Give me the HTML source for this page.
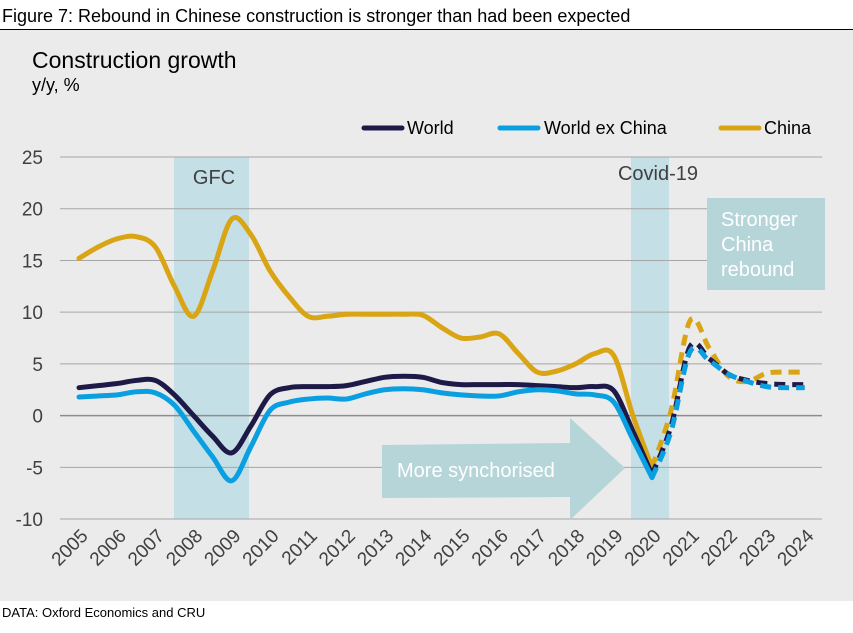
<!DOCTYPE html>
<html><head><meta charset="utf-8"><style>
body{margin:0;width:853px;height:628px;background:#fff;font-family:"Liberation Sans",Arial,sans-serif;overflow:hidden}
</style></head><body>
<svg width="853" height="628" xmlns="http://www.w3.org/2000/svg" font-family="Liberation Sans, Arial, sans-serif">
<text x="2" y="22" font-size="18" fill="#000">Figure 7: Rebound in Chinese construction is stronger than had been expected</text>
<line x1="0" y1="29.5" x2="853" y2="29.5" stroke="#000" stroke-width="1"/>
<rect x="0" y="30" width="853" height="571" fill="#ebebeb"/>
<text x="32" y="68" font-size="23" fill="#000">Construction growth</text>
<text x="32" y="91" font-size="18" fill="#000">y/y, %</text>
<rect x="174" y="157" width="75" height="362" fill="#c5dfe6"/>
<text x="214" y="184" font-size="20" fill="#404040" text-anchor="middle">GFC</text>
<rect x="631" y="157" width="38" height="362" fill="#c5dfe6"/>
<g id="grid"></g>
<text x="658" y="180" font-size="20" fill="#404040" text-anchor="middle">Covid-19</text>
<rect x="707" y="198" width="118" height="92" fill="#b5d5d9"/>
<text font-size="20" fill="#fff"><tspan x="721" y="226">Stronger</tspan><tspan x="721" y="251">China</tspan><tspan x="721" y="276">rebound</tspan></text>
<polygon points="382,445 570,443 570,418 625,468 570,520 570,497 382,498" fill="#b5d5d9"/>
<text x="397" y="477" font-size="20" fill="#fff">More synchorised</text>
<g id="series"></g>
<g>
<line x1="364" y1="128" x2="402" y2="128" stroke="#1e1a48" stroke-width="5" stroke-linecap="round"/>
<text x="407" y="134" font-size="18" fill="#000">World</text>
<line x1="500" y1="128" x2="538" y2="128" stroke="#0a9fe0" stroke-width="5" stroke-linecap="round"/>
<text x="544" y="134" font-size="18" fill="#000">World ex China</text>
<line x1="721" y1="128" x2="759" y2="128" stroke="#d9a514" stroke-width="5" stroke-linecap="round"/>
<text x="764" y="134" font-size="18" fill="#000">China</text>
</g>
<g id="xlabels"></g>
<text x="2" y="617" font-size="13" fill="#000">DATA: Oxford Economics and CRU</text>
</svg>
<script>
const years=[2005,2006,2007,2008,2009,2010,2011,2012,2013,2014,2015,2016,2017,2018,2019,2020,2021,2022,2023,2024];
const yTicks=[25,20,15,10,5,0,-5,-10];
// half-year points from 2005 to 2024
const china=[15.2,16.3,17.1,17.3,16.3,12.5,9.6,14,19,17.5,14,11.5,9.6,9.6,9.8,9.8,9.8,9.8,9.7,8.5,7.5,7.6,7.9,6,4.2,4.3,5,6,5.8,0,-5,0.5,9.2,6.5,3.8,3.3,4.1,4.2,4.2];
const world=[2.7,2.9,3.1,3.4,3.4,2,0,-2,-3.6,-1,2,2.7,2.8,2.8,2.9,3.3,3.7,3.8,3.7,3.2,3.0,3.0,3.0,3.0,2.9,2.8,2.7,2.8,2.4,-1.5,-5.7,-1,6.7,5.5,4,3.4,3.1,3.0,3.0];
const exChina=[1.8,1.9,2.0,2.3,2.2,1,-1.5,-4,-6.3,-3,0.5,1.3,1.6,1.7,1.6,2.1,2.5,2.6,2.5,2.2,2.0,1.9,1.9,2.3,2.5,2.4,2.1,2.0,1.3,-2.3,-6,-1.5,6.2,5.3,4,3.3,2.8,2.7,2.7];
const forecastStart=2020;
const NS="http://www.w3.org/2000/svg";
const xS=y=>79+(y-2005)*38.2;
const yS=v=>415.6-v*10.343;
const grid=document.getElementById('grid');
yTicks.forEach(t=>{
 const l=document.createElementNS(NS,'line');
 l.setAttribute('x1',60);l.setAttribute('x2',822);l.setAttribute('y1',yS(t));l.setAttribute('y2',yS(t));
 l.setAttribute('stroke',t===0?'#8c8c8c':'#a6a6a6');l.setAttribute('stroke-width',t===0?1.5:1);
 
 
 grid.appendChild(l);
 const tx=document.createElementNS(NS,'text');
 tx.setAttribute('x',43);tx.setAttribute('y',yS(t)+7);tx.setAttribute('text-anchor','end');
 tx.setAttribute('font-size','19');tx.setAttribute('fill','#404040');tx.textContent=t;
 
 
 grid.appendChild(tx);
});
const xl=document.getElementById('xlabels');
years.forEach(y=>{
 const tx=document.createElementNS(NS,'text');
 const x=xS(y)+10,yy=537;
 tx.setAttribute('x',x);tx.setAttribute('y',yy);tx.setAttribute('text-anchor','end');
 tx.setAttribute('transform','rotate(-45 '+x+' '+yy+')');
 tx.setAttribute('font-size','19');tx.setAttribute('fill','#404040');tx.textContent=y;
 
 
 xl.appendChild(tx);
});
function path(pts){
 let d='M'+pts[0][0]+','+pts[0][1];
 for(let i=0;i<pts.length-1;i++){
  const p0=pts[i-1]||pts[i],p1=pts[i],p2=pts[i+1],p3=pts[i+2]||p2;
  const c1=[p1[0]+(p2[0]-p0[0])/6,p1[1]+(p2[1]-p0[1])/6];
  const c2=[p2[0]-(p3[0]-p1[0])/6,p2[1]-(p3[1]-p1[1])/6];
  d+=' C'+c1[0]+','+c1[1]+' '+c2[0]+','+c2[1]+' '+p2[0]+','+p2[1];
 }
 return d;
}
const sg=document.getElementById('series');
function draw(vals,color,name){
 const pts=vals.map((v,i)=>[xS(2005+i*0.5),yS(v)]);
 const k=Math.round((forecastStart-2005)*2);
 const a=document.createElementNS(NS,'path');
 a.setAttribute('d',path(pts.slice(0,k+1)));a.setAttribute('fill','none');a.setAttribute('stroke',color);a.setAttribute('stroke-width',5);a.setAttribute('stroke-linejoin','round');a.setAttribute('stroke-linecap','round');
 
 
 sg.appendChild(a);
 const b=document.createElementNS(NS,'path');
 b.setAttribute('d',path(pts.slice(k)));b.setAttribute('fill','none');b.setAttribute('stroke',color);b.setAttribute('stroke-width',5);b.setAttribute('stroke-dasharray','11 7');
 
 
 sg.appendChild(b);
}
draw(china,'#d9a514','china');
draw(world,'#1e1a48','world');
draw(exChina,'#0a9fe0','world-ex-china');
</script>
</body></html>
